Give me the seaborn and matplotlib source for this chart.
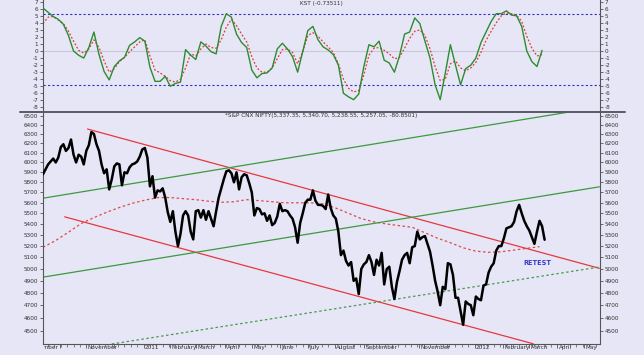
import numpy as np
import pandas as pd
import matplotlib
matplotlib.use("Agg")
import matplotlib.pyplot as plt
import seaborn as sns
from matplotlib import font_manager
from matplotlib.ticker import FixedLocator, NullLocator
from matplotlib.transforms import Bbox, TransformedBbox, ScaledTranslation
from matplotlib.lines import Line2D

# ---------------- data ----------------
START = "2010-09-14"
AXIS_END = "2012-05-17"

# KST indicator and its signal line, one value every 4 trading days from START
kst_values = [6.1, 5.5, 4.9, 4.5, 3.8, 2.2, 0.0, -0.6, -1.0, 0.5,
              2.7, -0.5, -2.9, -4.1, -2.2, -1.4, -0.9, 0.8, 1.3, 1.9,
              1.4, -2.3, -4.3, -4.3, -3.6, -5.0, -4.6, -4.4, 0.2, -0.6,
              -1.2, 1.3, 0.7, -0.1, -0.4, 3.5, 5.3, 4.8, 2.4, 1.2,
              0.5, -2.7, -3.8, -3.2, -3.1, -2.4, 0.3, 1.1, 0.3, -0.8,
              -3.0, -0.1, 2.9, 3.5, 1.6, 0.6, 0.15, -0.5, -2.0, -6.0,
              -6.5, -6.9, -6.1, -2.2, 0.9, 0.6, 1.4, -1.3, -1.7, -3.0,
              -0.7, 2.4, 2.7, 4.7, 3.9, 1.4, -1.0, -4.8, -6.9, -3.1,
              0.9, -2.0, -4.8, -2.5, -2.0, -1.0, 1.2, 2.7, 4.2, 5.3,
              5.3, 5.7, 5.1, 5.0, 3.5, 0.0, -1.5, -2.2, 0.1]
kst_signal = [3.9, 4.8, 4.9, 4.4, 3.9, 2.8, 1.4, 0.1, -0.3, 0.3,
              1.6, 0.5, -1.4, -3.0, -2.5, -1.5, -0.9, -0.1, 0.6, 1.3,
              1.6, -0.7, -2.7, -3.1, -3.6, -4.2, -4.4, -4.0, -2.4, -0.4,
              -0.7, 0.3, 1.0, 0.5, 0.4, 1.6, 3.4, 4.5, 3.6, 2.4,
              1.3, -0.8, -2.4, -3.0, -3.0, -2.4, -1.1, 0.2, 0.3, -0.2,
              -1.8, -0.1, 2.2, 2.6, 2.1, 1.3, 0.6, -0.2, -1.8, -4.0,
              -5.3, -5.8, -5.6, -3.4, -0.6, 0.4, 0.5, 0.1, -0.4, -1.1,
              -0.9, 0.4, 1.8, 2.8, 3.0, 2.2, 0.3, -2.2, -4.2, -4.0,
              -1.8, -1.4, -2.4, -2.8, -2.4, -1.6, -0.2, 1.5, 2.8, 4.0,
              5.0, 5.4, 5.3, 5.1, 4.2, 2.1, 0.4, -0.7, -0.5]
kst_bands = [5.3, -4.8]

# S&P CNX Nifty closes, one value every 2 trading days from START
price_close = [5880, 5930, 5980, 6010, 6040, 6000, 6050, 6160, 6190, 6120,
               6150, 6240, 6080, 6000, 6080, 6060, 5980, 6120, 6180, 6320,
               6300, 6190, 6120, 5980, 5890, 5930, 5730, 5830, 5960, 5990,
               5980, 5770, 5900, 5890, 5950, 5980, 5990, 6010, 6060, 6135,
               6150, 6050, 5760, 5860, 5650, 5720, 5710, 5740, 5650, 5510,
               5420, 5520, 5330, 5200, 5310, 5480, 5520, 5480, 5330, 5260,
               5520, 5530, 5460, 5530, 5440, 5520, 5450, 5380, 5520, 5650,
               5740, 5830, 5910, 5920, 5890, 5800, 5900, 5730, 5850, 5880,
               5870, 5790, 5700, 5480, 5550, 5540, 5490, 5500, 5430, 5480,
               5390, 5410, 5470, 5590, 5520, 5530, 5520, 5480, 5450, 5370,
               5230, 5410, 5500, 5600, 5630, 5630, 5720, 5620, 5580, 5580,
               5570, 5540, 5680, 5550, 5480, 5450, 5330, 5120, 5160, 5070,
               5030, 5060, 4900, 4920, 4790, 5000, 5040, 5060, 5120, 5060,
               4950, 5080, 5030, 5140, 4870, 5000, 5020, 4850, 4750, 4890,
               4980, 5080, 5120, 5140, 5050, 5190, 5200, 5330, 5260, 5280,
               5290, 5220, 5150, 5030, 4900, 4810, 4700, 4850, 4830, 5050,
               5040, 4950, 4760, 4760, 4650, 4545, 4730, 4710, 4700, 4620,
               4770, 4750, 4740, 4860, 4870, 4970, 5020, 5050, 5160, 5200,
               5200, 5270, 5360, 5370, 5380, 5420, 5520, 5580, 5500, 5430,
               5380, 5340, 5280, 5220, 5330, 5430, 5380, 5257]

# long moving average (red dashed), one value every 10 trading days from START
ma_values = [5190, 5250, 5325, 5405, 5460, 5510, 5555, 5595, 5625, 5650,
             5650, 5640, 5630, 5615, 5605, 5610, 5630, 5620, 5610, 5600,
             5600, 5600, 5590, 5550, 5500, 5450, 5420, 5400, 5385, 5370,
             5320, 5270, 5230, 5185, 5155, 5145, 5150, 5165, 5180, 5195]

# trend lines: (date, price) end points
trend_red_upper = (["2010-11-02", "2012-05-17"], [6353, 5006])
trend_red_lower = (["2010-10-07", "2012-03-06"], [5467, 4400])
trend_green_upper = (["2010-09-14", "2012-04-17"], [5644, 6545])
trend_green_lower = (["2010-09-14", "2012-05-17"], [4931, 5755])
trend_green_dotted = (["2010-11-29", "2012-05-17"], [4398, 5017])

price_ticks = list(range(4500, 6501, 100))
kst_ticks = list(range(-8, 8))
month_labels = ["September", "", "November", "", "2011", "February", "March",
                "April", "May", "June", "July", "August", "September", "",
                "November", "", "2012", "February", "March", "April", "May"]
retest_label = ("2012-03-09", 5053, "RETEST")

# ---------------- helpers ----------------
def bidx(dates):
    d = pd.to_datetime(pd.Index(dates)).values.astype("datetime64[D]")
    return np.busday_count(np.datetime64(START), d)

kst_dates = pd.bdate_range(START, periods=len(kst_values), freq="4B")
price_dates = pd.bdate_range(START, periods=len(price_close), freq="2B")
ma_dates = pd.bdate_range(START, periods=len(ma_values), freq="10B")

kst_df = pd.DataFrame({"t": bidx(kst_dates), "kst": kst_values, "sig": kst_signal})
price_df = pd.DataFrame({"t": bidx(price_dates), "close": price_close})
ma_df = pd.DataFrame({"t": bidx(ma_dates), "ma": ma_values})

x_end = float(bidx([AXIS_END])[0]) + 0.5

# ---------------- style ----------------
BG = "#E6E6F7"
sns.set_style("white", {"axes.facecolor": BG, "figure.facecolor": BG})

_fonts = font_manager.fontManager.ttflist
_names = {f.name for f in _fonts}
STRETCH = "normal"
if "Liberation Sans Narrow" in _names:
    FAMILY, FS = "Liberation Sans Narrow", 5.0
elif any(f.name == "DejaVu Sans" and str(f.stretch) == "condensed" for f in _fonts):
    FAMILY, FS, STRETCH = "DejaVu Sans", 4.6, "condensed"
else:
    FAMILY, FS = "Liberation Sans", 4.4
plt.rcParams["font.family"] = [FAMILY, "DejaVu Sans"]
plt.rcParams["font.stretch"] = STRETCH
plt.rcParams["font.size"] = FS
TXT = "#333333"

fig = plt.figure(figsize=(6.44, 3.55), dpi=100, facecolor=BG)
W, H = 644, 355
L, R = 43, 600
ax1 = fig.add_axes([L / W, 1 - 112 / H, (R - L) / W, 112 / H])
ax2 = fig.add_axes([L / W, 1 - 344 / H, (R - L) / W, (344 - 112) / H])
for a in (ax1, ax2):
    a.set_facecolor(BG)

# ---------------- KST panel ----------------
ax1.axhline(0, color="#C9C9DA", lw=0.8, zorder=1)
for b in kst_bands:
    ax1.axhline(b, color="#3030C8", lw=0.8, ls=(0, (2, 2)), zorder=1)
sns.lineplot(data=kst_df, x="t", y="sig", ax=ax1, color="#E03A3A", lw=0.9,
             linestyle=(0, (1.5, 1.5)), zorder=2)
sns.lineplot(data=kst_df, x="t", y="kst", ax=ax1, color="#2E8B2E", lw=1.0, zorder=3)
ax1.set_xlim(0, x_end)
ax1.set_ylim(-8.65, 7.24)
ax1.yaxis.set_major_locator(FixedLocator(kst_ticks))
ax1.set_yticklabels([str(v) for v in kst_ticks])
ax1.set_xticks([])
ax1.set_xlabel("")
ax1.set_ylabel("")
ax1.text(0.5, 0.99, "KST (-0.73511)", transform=ax1.transAxes, ha="center",
         va="top", color=TXT, fontsize=FS)

# ---------------- price panel ----------------
sns.lineplot(data=ma_df, x="t", y="ma", ax=ax2, color="#E04848", lw=0.9,
             linestyle=(0, (2, 2)), zorder=2)
for (dts, vals), col, ls in [
        (trend_red_upper, "#E8383D", "-"),
        (trend_red_lower, "#E8383D", "-"),
        (trend_green_upper, "#3C9A3C", "-"),
        (trend_green_lower, "#3C9A3C", "-"),
        (trend_green_dotted, "#4A9A4A", (0, (2, 2)))]:
    tdf = pd.DataFrame({"t": bidx(dts), "p": vals})
    sns.lineplot(data=tdf, x="t", y="p", ax=ax2, color=col, lw=0.9,
                 linestyle=ls, zorder=2)
sns.lineplot(data=price_df, x="t", y="close", ax=ax2, color="black", lw=1.8, zorder=4)

ax2.set_yscale("log")
ax2.set_xlim(0, x_end)
ax2.set_ylim(4398, 6541)
ax2.yaxis.set_major_locator(FixedLocator(price_ticks))
ax2.yaxis.set_minor_locator(NullLocator())
ax2.set_yticklabels([str(v) for v in price_ticks])
ax2.set_xlabel("")
ax2.set_ylabel("")

# month ticks / weekly minor ticks
month_starts = pd.date_range("2010-09-01", periods=len(month_labels), freq="BMS")
month_idx = bidx(month_starts)
keep = month_idx >= 0
ax2.xaxis.set_major_locator(FixedLocator(month_idx[keep]))
ax2.set_xticklabels([l for l, k in zip(month_labels, keep) if k], ha="left", va="top")
week_idx = bidx(pd.date_range("2010-09-13", AXIS_END, freq="W-MON"))
ax2.xaxis.set_minor_locator(FixedLocator(week_idx[week_idx >= 0]))

# clipped first month label (only its tail is visible inside the frame)
t0 = ax2.text(month_idx[0] - 4, -0.006, month_labels[0], ha="left", va="top",
              color=TXT, fontsize=FS, transform=ax2.get_xaxis_transform(),
              clip_on=True)
t0.set_clip_box(TransformedBbox(Bbox([[(L + 1) / W, 0], [1, 1]]), fig.transFigure))

ax2.text(0.5, 0.995, "*S&P CNX NIFTY(5,337.35, 5,340.70, 5,238.55, 5,257.05, -80.8501)",
         transform=ax2.transAxes, ha="center", va="top", color=TXT, fontsize=FS)
rd, rv, rt = retest_label
ax2.text(bidx([rd])[0], rv, rt, ha="center", va="center", color="#3A3AD0",
         fontsize=FS + 0.6, fontweight="bold")

# ---------------- axes cosmetics ----------------
for a in (ax1, ax2):
    a.spines["top"].set_visible(False)
    for s in ("left", "right"):
        a.spines[s].set_color("#555555")
        a.spines[s].set_linewidth(0.8)
    a.tick_params(axis="y", which="both", left=True, right=True, labelleft=True,
                  labelright=True, direction="out", length=2.5, width=0.6,
                  pad=1, colors="#555555", labelcolor=TXT, labelsize=FS)
ax1.spines["bottom"].set_visible(False)
ax2.spines["bottom"].set_color("#555555")
ax2.spines["bottom"].set_linewidth(0.8)
ax2.tick_params(axis="x", which="major", bottom=True, direction="out", length=3.2,
                width=0.6, pad=-2.6, colors="#555555", labelcolor=TXT, labelsize=FS)
ax2.tick_params(axis="x", which="minor", bottom=True, direction="out", length=1.8,
                width=0.5, colors="#555555")
_shift = ScaledTranslation(1.5 / 100, 0, fig.dpi_scale_trans)
for lab in ax2.get_xticklabels():
    lab.set_transform(lab.get_transform() + _shift)

# panel separator
fig.add_artist(Line2D([20 / W, 625 / W], [1 - 112 / H, 1 - 112 / H],
                      transform=fig.transFigure, color="#5A5A66", lw=1.4))

fig.savefig("out.png", dpi=100, facecolor=BG)
